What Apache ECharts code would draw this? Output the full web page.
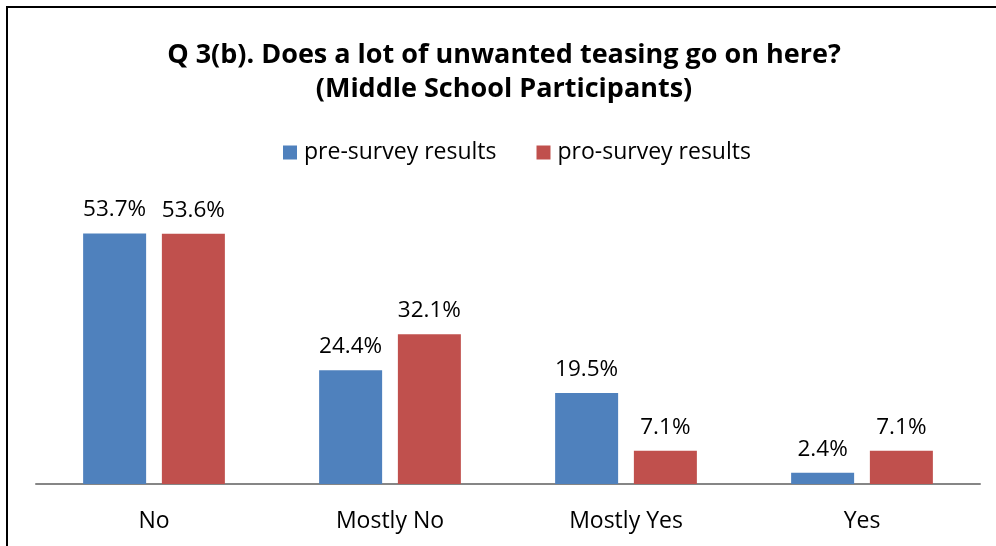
<!DOCTYPE html>
<html>
<head>
<meta charset="utf-8">
<script src="https://cdn.jsdelivr.net/npm/echarts@6/dist/echarts.min.js"></script>
<style>
  html, body { margin: 0; padding: 0; background: #fff; }
  #frame { position: absolute; left: 6px; top: 6px; width: 1000px; height: 600px; border-left: 2px solid #000; border-top: 2px solid #000; box-sizing: border-box; }
  #chart { position: absolute; left: 0; top: 0; width: 996px; height: 546px; }
</style>
</head>
<body>
<div id="frame"></div>
<div id="chart"></div>
<script>
// Answer categories and the share of participants choosing each one
const categories = ['No', 'Mostly No', 'Mostly Yes', 'Yes'];
const preSurvey = [53.7, 24.4, 19.5, 2.4];
const proSurvey = [53.6, 32.1, 7.1, 7.1];
const seriesNames = ['pre-survey results', 'pro-survey results'];

const FONT = '"Open Sans", Lato, sans-serif';
const chart = echarts.init(document.getElementById('chart'));

const labelStyle = {
  show: true,
  position: 'top',
  distance: 12,
  color: '#000',
  fontFamily: FONT,
  fontSize: 22.5,
  formatter: p => p.value.toFixed(1) + '%'
};

chart.setOption({
  animation: false,
  title: {
    text: 'Q 3(b). Does a lot of unwanted teasing go on here?\n(Middle School Participants)',
    left: 499,
    textAlign: 'center',
    top: 33,
    textStyle: { fontFamily: FONT, fontSize: 27, fontWeight: 'bold', color: '#000', lineHeight: 34 }
  },
  legend: {
    data: seriesNames,
    top: 136,
    left: 278,
    itemWidth: 14,
    itemHeight: 14,
    itemGap: 40,
    icon: 'rect',
    textStyle: { fontFamily: FONT, fontSize: 23, color: '#000', padding: [0, 0, 0, 2] }
  },
  grid: { left: 36, right: 16, top: 204, bottom: 62 },
  xAxis: {
    type: 'category',
    data: categories,
    axisLine: { lineStyle: { color: '#868686', width: 2 } },
    axisTick: { show: false },
    axisLabel: { fontFamily: FONT, fontSize: 23, color: '#000', margin: 26 }
  },
  yAxis: {
    type: 'value',
    min: 0,
    max: 60,
    show: false,
    splitLine: { show: false }
  },
  series: [
    {
      name: seriesNames[0],
      type: 'bar',
      data: preSurvey,
      barWidth: 63,
      barGap: '25%',
      itemStyle: { color: '#4F81BD' },
      label: labelStyle
    },
    {
      name: seriesNames[1],
      type: 'bar',
      data: proSurvey,
      barWidth: 63,
      barGap: '25%',
      itemStyle: { color: '#C0504D' },
      label: labelStyle
    }
  ]
});
</script>
</body>
</html>
